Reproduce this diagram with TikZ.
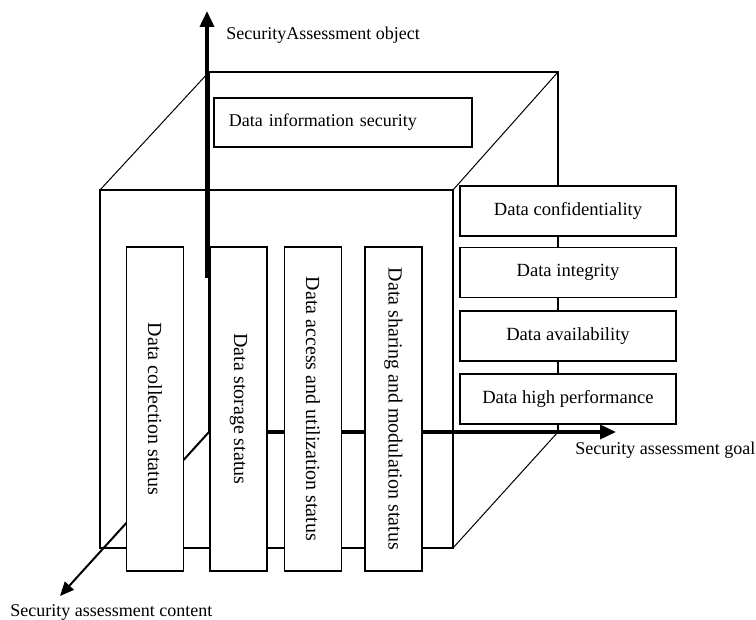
\documentclass[tikz,border=0pt]{standalone}
\usepackage{fontspec}
\setmainfont{Liberation Serif}
\usetikzlibrary{arrows.meta}

\tikzset{
  box/.style={draw,line width=0.9pt,fill=white,inner sep=0pt,font=\fontsize{9}{11}\selectfont},
  lifebox/.style={box,minimum width=28.5pt,minimum height=162pt,font=\fontsize{10}{12}\selectfont},
  goalbox/.style={box,minimum width=108pt,minimum height=25pt,font=\fontsize{9.3}{11}\selectfont},
  edge/.style={line width=0.8pt},
  slant/.style={line width=0.5pt},
  axis/.style={line width=1.8pt,-{Triangle[length=8pt,width=7pt]}},
  axislabel/.style={anchor=west,inner sep=0pt,font=\fontsize{9}{11}\selectfont}
}

\begin{document}
\begin{tikzpicture}[x=0.5pt,y=-0.5pt]
\useasboundingbox (0,0) rectangle (756,620);
% cube: back face, front face and the slanted edges
\draw[edge] (209,72) rectangle (558,432);
\draw[edge] (100,190) rectangle (453,548);
\draw[slant] (209,72) -- (100,190);
\draw[slant] (558,72) -- (453,190);
\draw[slant] (558,432) -- (453,548);
% axes
\coordinate (origin) at (209,432);
\coordinate (objfoot) at (207,278);
\coordinate (objtip) at (207,11);
\coordinate (goaltip) at (616,432);
\coordinate (contip) at (60,596);
\draw[axis] (objfoot) -- (objtip);
\draw[axis] (origin) -- (goaltip);
\draw[line width=1pt,-{Triangle[length=7pt,width=6pt]}] (origin) -- (contip);
% security content along the data life cycle
\node[lifebox] (collect) at (155,409) {\rotatebox{-90}{Data collection status}};
\node[lifebox] (store) at (238.5,409) {\rotatebox{-90}{Data storage status}};
\node[lifebox] (access) at (313,409) {\rotatebox{-90}{Data access and utilization status}};
\node[lifebox] (share) at (393.5,409) {\rotatebox{-90}{Data sharing and modulation status}};
% assessment object
\node[box,anchor=west,minimum width=129pt,minimum height=24.5pt,inner xsep=7.5pt,text width=114pt,align=left] (infosec) at (213,122.5) {Data information security};
% assessment goals
\node[goalbox] (confid) at (568,211) {Data confidentiality};
\node[goalbox] (integ) at (568,272.5) {Data integrity};
\node[goalbox] (avail) at (568,336) {Data availability};
\node[goalbox] (perf) at (568,399) {Data high performance};
% axis labels
\node[axislabel] (objlabel) at (226,35) {SecurityAssessment object};
\node[axislabel] (goallabel) at (575,450) {Security assessment goal};
\node[axislabel] (conlabel) at (10,612) {Security assessment content};
\end{tikzpicture}
\end{document}
